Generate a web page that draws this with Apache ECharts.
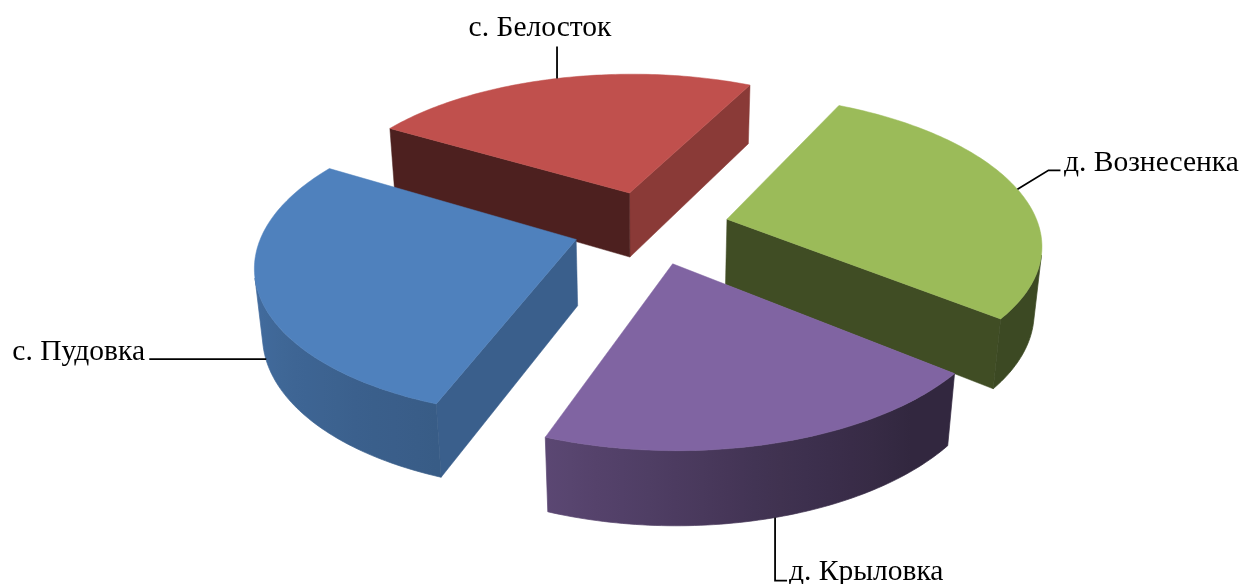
<!DOCTYPE html>
<html><head><meta charset="utf-8">
<style>html,body{margin:0;padding:0;background:#fff}#c{width:1241px;height:584px}</style>
<script src="https://cdn.jsdelivr.net/npm/echarts@6/dist/echarts.min.js"></script>
</head><body><div id="c"></div>
<script>
// Data: shares (percent), clockwise from the near-left boundary
const categories = ['с. Пудовка', 'с. Белосток', 'д. Вознесенка', 'д. Крыловка'];
const values = [27.9, 23.8, 28.5, 19.8];
const colors = ['#4F81BD', '#C0504D', '#9BBB59', '#8064A2'];

// Projection and styling
const START_ANGLE = 249.8, CX = 651, CY = 227, SX = 320, SY = 150, PERSP = 0.155;
const DROP = 67, DROP_W = 0.02, RADIUS = 0.975, EXPLODE = 0.245;
const FONT = '29.5px "Liberation Serif","Times New Roman",serif';
// angle (deg) -> brightness of the curved side wall
const wallLight = [[100,.95],[170,.9],[250,.71],[285,.5],[310,.39],[430,.39]];
// per category: [flat wall at the lower angle, flat wall at the higher angle]
const cutLight = [[.74,.74],[.72,.40],[.41,.72],[.41,.41]];
// leader layout per category: h = point on the top(0)/bottom(1) edge, steps from that point, label position
const leaders = [
  {h:.97, steps:[[-117,0]], label:[145,352,'right']},
  {h:0, steps:[[0,-32]], label:[540,28,'center']},
  {h:0, steps:[[31,-19],[43,-19]], label:[1064,163,'left']},
  {h:1, steps:[[0,63],[12,63]], label:[789,572,'left']}
];

const total = values.reduce((a,b)=>a+b,0);
let acc = START_ANGLE;
const slices = values.map((v,i)=>{
  const a1 = acc, a0 = acc - v/total*360; acc = a0;
  return {i, a0, a1, mid:(a0+a1)/2};
});
const rad = d => d*Math.PI/180;
function proj(X,Y,h){
  const w = 1+PERSP*Y+DROP_W*h;
  return [CX+SX*X/w, CY+(-SY*Y+DROP*h)/w];
}
function shade(hex,f){
  const n=parseInt(hex.slice(1),16);
  return 'rgb('+[n>>16,(n>>8)&255,n&255].map(c=>Math.round(c*f)).join(',')+')';
}
function lightAt(t){
  t=((t-100)%360+360)%360+100;
  for(let i=1;i<wallLight.length;i++){
    const [a,l]=wallLight[i-1],[b,m]=wallLight[i];
    if(t<=b) return l+(m-l)*(t-a)/(b-a);
  }
  return .39;
}
function area(p){let s=0;for(let i=0;i<p.length;i++){const q=p[(i+1)%p.length];s+=p[i][0]*q[1]-q[0]*p[i][1];}return s;}
function poly(points,fill){return {type:'polygon',shape:{points},style:{fill,stroke:fill,lineWidth:.5}};}

function renderItem(params, api){
  const s = slices[api.value(0)], col = colors[s.i];
  const ax = EXPLODE*Math.cos(rad(s.mid)), ay = EXPLODE*Math.sin(rad(s.mid));
  const P = (t,h)=>proj(ax+RADIUS*Math.cos(rad(t)), ay+RADIUS*Math.sin(rad(t)), h);
  const A = h=>proj(ax,ay,h);
  const kids=[];
  const wall=(p0,p1,q1,q0,fill)=>{const p=[p0,p1,q1,q0]; if(area(p)>0) kids.push(poly(p,fill));};
  wall(A(0),P(s.a0,0),P(s.a0,1),A(1),shade(col,cutLight[s.i][0]));
  wall(P(s.a1,0),A(0),A(1),P(s.a1,1),shade(col,cutLight[s.i][1]));
  // curved side wall: visible run as one polygon with a horizontal gradient
  const STEP=1, ts=[];
  for(let t=s.a0;t<s.a1-1e-6;t+=STEP){
    const u=Math.min(t+STEP,s.a1);
    if(area([P(t,0),P(u,0),P(u,1),P(t,1)])>0){ if(!ts.length) ts.push(t); ts.push(u); }
  }
  if(ts.length>1){
    const topE=ts.map(t=>P(t,0)), botE=ts.map(t=>P(t,1)).reverse();
    const x0=topE[0][0], x1=topE[topE.length-1][0];
    const stops=[];
    ts.forEach((t,i)=>{ if(i%4===0||i===ts.length-1) stops.push({offset:Math.min(1,Math.max(0,(topE[i][0]-x0)/(x1-x0))),color:shade(col,lightAt(t))}); });
    const fill={type:'linear',x:x0,y:0,x2:x1,y2:0,global:true,colorStops:stops};
    kids.push({type:'polygon',shape:{points:topE.concat(botE)},style:{fill,stroke:fill,lineWidth:.7}});
  }
  const top=[A(0)];
  for(let t=s.a0;t<s.a1;t+=1) top.push(P(t,0));
  top.push(P(s.a1,0));
  kids.push(poly(top,col));
  return {type:'group',children:kids};
}
function renderLeader(params, api){
  const s = slices[api.value(0)], L = leaders[s.i];
  const ax = EXPLODE*Math.cos(rad(s.mid)), ay = EXPLODE*Math.sin(rad(s.mid));
  const start = proj(ax+RADIUS*Math.cos(rad(s.mid)), ay+RADIUS*Math.sin(rad(s.mid)), L.h);
  const pts=[start].concat(L.steps.map(d=>[start[0]+d[0],start[1]+d[1]]));
  return {type:'group',children:[
    {type:'polyline',shape:{points:pts},style:{stroke:'#000',lineWidth:1.8,fill:null}},
    {type:'text',x:L.label[0],y:L.label[1],style:{text:categories[s.i],font:FONT,fill:'#000',align:L.label[2],verticalAlign:'middle'}}
  ]};
}
const depthOrder = slices.slice().sort((p,q)=>Math.sin(rad(q.mid))-Math.sin(rad(p.mid))).map(s=>s.i);
const chart = echarts.init(document.getElementById('c'),null,{renderer:'canvas'});
chart.setOption({
  animation:false, backgroundColor:'#fff',
  series:[
    {type:'custom',coordinateSystem:'none',renderItem,silent:true,data:depthOrder.map(i=>[i,values[i]])},
    {type:'custom',coordinateSystem:'none',renderItem:renderLeader,silent:true,data:values.map((v,i)=>[i,v])}
  ]
});
</script></body></html>
